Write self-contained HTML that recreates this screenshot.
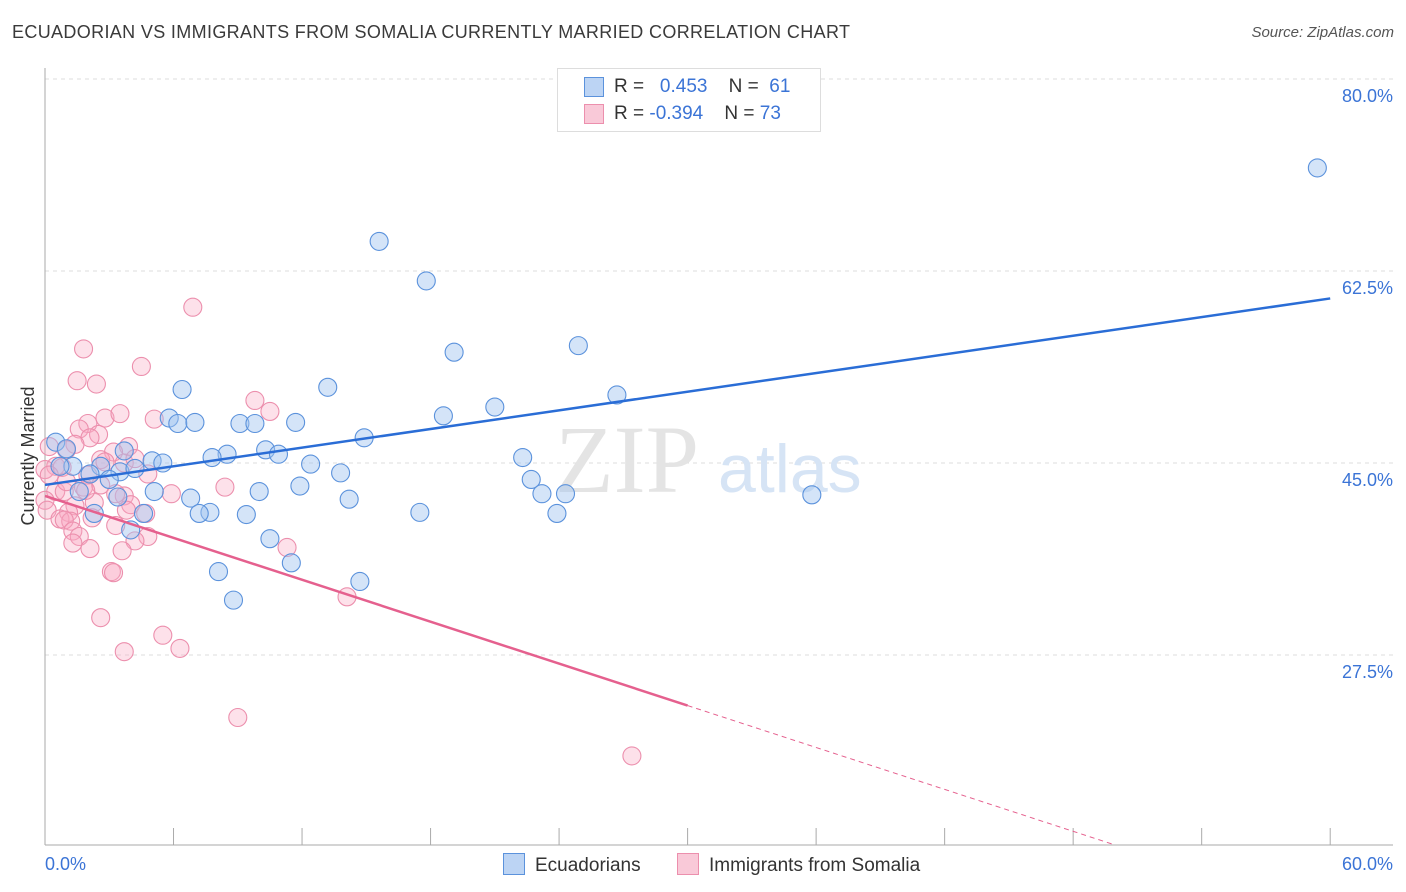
<!DOCTYPE html>
<html><head><meta charset="utf-8"><style>
body{margin:0;background:#fff;font-family:"Liberation Sans",sans-serif;}
#wrap{position:relative;width:1406px;height:892px;overflow:hidden;}
.t{position:absolute;white-space:nowrap;}
</style></head><body>
<div id="wrap">
<div class="t" style="left:12px;top:22px;font-size:18px;color:#3a3a3a;letter-spacing:0.35px">ECUADORIAN VS IMMIGRANTS FROM SOMALIA CURRENTLY MARRIED CORRELATION CHART</div>
<div class="t" style="right:12px;top:24px;font-size:15px;color:#555;font-style:italic">Source: ZipAtlas.com</div>
<svg id="chart" width="1406" height="892" style="position:absolute;left:0;top:0"></svg>
</div>
<script>
const xTicks=[0,6,12,18,24,30,36,42,48,54,60];
const yTicks=[27.5,45,62.5,80];
const yTickLabels=["27.5%","45.0%","62.5%","80.0%"];
const xEndLabels=["0.0%","60.0%"];
const blueX=[59.4,15.6,17.8,19.1,24.9,26.7,6.4,13.2,21.0,18.6,5.8,6.2,7.0,9.1,9.8,11.7,14.9,0.5,1.0,10.3,10.9,8.5,7.8,3.7,5.0,5.5,12.4,22.3,2.6,1.3,0.7,2.1,3.5,4.2,13.8,22.7,11.9,3.0,1.6,5.1,10.0,6.8,14.2,23.2,24.3,35.8,7.7,7.2,9.4,17.5,23.9,2.3,4.6,4.0,10.5,11.5,8.1,14.7,8.8,3.4];
const blueY=[71.9,65.2,61.6,55.1,55.7,51.2,51.7,51.9,50.1,49.3,49.1,48.6,48.7,48.6,48.6,48.7,47.3,46.9,46.3,46.2,45.8,45.8,45.5,46.1,45.2,45.0,44.9,45.5,44.7,44.7,44.7,44.0,44.2,44.5,44.1,43.5,42.9,43.5,42.4,42.4,42.4,41.8,41.7,42.2,42.2,42.1,40.5,40.4,40.3,40.5,40.4,40.4,40.4,38.9,38.1,35.9,35.1,34.2,32.5,41.9];
const pinkX=[6.9,1.8,4.5,1.5,2.4,5.1,10.5,9.8,2.8,3.5,2.0,1.6,2.5,2.1,0.2,1.4,3.9,1.0,3.2,0.5,0.0,0.8,2.6,0.2,2.0,3.7,4.2,4.8,1.8,2.6,0.5,0.9,3.7,5.9,8.4,0.0,1.4,4.0,0.1,2.3,1.1,4.7,3.8,0.7,2.2,1.2,0.9,1.3,3.3,4.8,1.6,4.2,1.3,2.1,3.6,11.3,3.1,3.2,2.6,5.5,3.7,6.3,14.1,9.0,27.4,3.3,1.9,2.8,1.0];
const pinkY=[59.2,55.4,53.8,52.5,52.2,49.0,49.7,50.7,49.1,49.5,48.6,48.1,47.6,47.3,46.5,46.7,46.5,46.2,46.0,44.7,44.4,44.6,45.3,43.9,43.9,45.0,45.4,44.0,42.8,43.0,42.4,42.4,42.0,42.2,42.8,41.6,41.1,41.2,40.7,41.4,40.5,40.4,40.7,39.9,40.0,39.7,39.8,38.8,39.3,38.3,38.3,37.9,37.7,37.2,37.0,37.3,35.1,35.0,30.9,29.3,27.8,28.1,32.8,21.8,18.3,42.2,42.5,45.1,43.3];
const blueTrend=[43.0,60.0];
const pinkTrend=[42.0,-0.637];
const pinkSolidEnd=30;

const sx=v=>45+v*21.42;
const sy=v=>463-(v-45)*10.97;
const NS="http://www.w3.org/2000/svg";
const svg=document.getElementById('chart');
function mk(tag,attrs,parent){const e=document.createElementNS(NS,tag);for(const k in attrs)e.setAttribute(k,attrs[k]);(parent||svg).appendChild(e);return e;}

yTicks.forEach((v,i)=>{
 const g=mk('line',{x1:45,x2:1393,y1:sy(v),y2:sy(v),stroke:'#ddd','stroke-dasharray':'4,4'});
 
 
 const t=mk('text',{x:1393,y:sy(v)+23,'text-anchor':'end','font-size':18,fill:'#3b74d6','font-family':'Liberation Sans, sans-serif'});
 t.textContent=yTickLabels[i];
 
 
});
const ax=mk('line',{x1:45,x2:1393,y1:845,y2:845,stroke:'#aaa'});


const ay=mk('line',{x1:45,x2:45,y1:68,y2:845,stroke:'#aaa'});


xTicks.forEach(v=>{
 const l=mk('line',{x1:sx(v),x2:sx(v),y1:828,y2:845,stroke:'#aaa'});
 
 
});
[[0,'start',45],[60,'end',1393]].forEach((a,i)=>{
 const t=mk('text',{x:a[2],y:870,'text-anchor':a[1],'font-size':18,fill:'#3b74d6','font-family':'Liberation Sans, sans-serif'});
 t.textContent=xEndLabels[i];
 
 
});
const yt=mk('text',{x:34,y:456,'text-anchor':'middle','font-size':18,fill:'#333',transform:'rotate(-90 34 456)','font-family':'Liberation Sans, sans-serif'});
yt.textContent='Currently Married';


const wm=mk('text',{x:555,y:492,'font-size':96,fill:'#e4e4e4','font-family':'Liberation Serif, serif'});
wm.textContent='ZIP';


const wm2=mk('text',{x:718,y:492,'font-size':68,fill:'#d6e4f5','font-family':'Liberation Sans, sans-serif'});
wm2.textContent='atlas';



pinkX.forEach((x,i)=>{
 const c=mk('circle',{cx:sx(x),cy:sy(pinkY[i]),r:9,fill:'rgba(248,170,195,0.35)',stroke:'#ec8fad','stroke-width':1.1});
 
 
});
blueX.forEach((x,i)=>{
 const c=mk('circle',{cx:sx(x),cy:sy(blueY[i]),r:9,fill:'rgba(160,195,240,0.45)',stroke:'#5b92dc','stroke-width':1.1});
 
 
});
const bl=mk('line',{x1:sx(0),y1:sy(blueTrend[0]),x2:sx(60),y2:sy(blueTrend[1]),stroke:'#2a6dd6','stroke-width':2.5});


const pv=x=>pinkTrend[0]+pinkTrend[1]*x;
const pl=mk('line',{x1:sx(0),y1:sy(pv(0)),x2:sx(pinkSolidEnd),y2:sy(pv(pinkSolidEnd)),stroke:'#e5608e','stroke-width':2.5});


const xEnd=(10.2-pinkTrend[0])/pinkTrend[1];
const pd=mk('line',{x1:sx(pinkSolidEnd),y1:sy(pv(pinkSolidEnd)),x2:sx(xEnd),y2:sy(pv(xEnd)),stroke:'#e5608e','stroke-width':1,'stroke-dasharray':'5,4'});


</script>
<div class="t" style="left:557px;top:68px;width:262px;height:62px;border:1px solid #ddd;background:#fff;font-size:19px;color:#333">
 <div style="position:absolute;left:26px;top:8px;width:18px;height:18px;background:#bcd4f4;border:1px solid #5b92dc"></div>
 <div style="position:absolute;left:56px;top:7px">R = &nbsp;<span style="color:#3b74d6">&nbsp;0.453</span>&nbsp;&nbsp;&nbsp; N = &nbsp;<span style="color:#3b74d6">61</span></div>
 <div style="position:absolute;left:26px;top:35px;width:18px;height:18px;background:#f9c9d8;border:1px solid #ec8fad"></div>
 <div style="position:absolute;left:56px;top:34px">R = <span style="color:#3b74d6">-0.394</span>&nbsp;&nbsp;&nbsp; N = <span style="color:#3b74d6">73</span></div>
</div>
<div class="t" style="left:503px;top:853px;font-size:19px;color:#333"><span style="display:inline-block;width:20px;height:20px;background:#bcd4f4;border:1px solid #5b92dc;vertical-align:-4px;margin-right:10px"></span>Ecuadorians</div>
<div class="t" style="left:677px;top:853px;font-size:19px;color:#333"><span style="display:inline-block;width:20px;height:20px;background:#f9c9d8;border:1px solid #ec8fad;vertical-align:-4px;margin-right:10px"></span>Immigrants from Somalia</div>
</body></html>
